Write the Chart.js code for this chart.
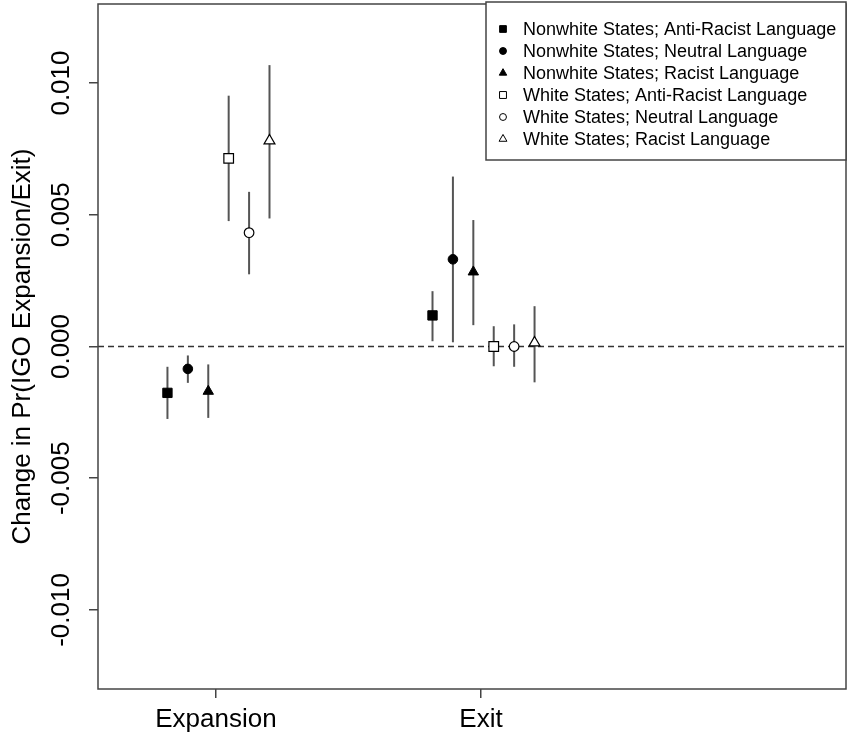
<!doctype html>
<html>

<head>
    <title>IGO Expansion / Exit</title>
    <script src="https://cdn.jsdelivr.net/npm/chart.js@4.4.1/dist/chart.umd.min.js"></script>
    <style>
        body { margin: 0; background: #fff; }
    </style>
</head>

<body>
    <canvas id="chart-area" width="847" height="735"></canvas>
    <script>
    // categories on the x axis
    var categories = ["Expansion", "Exit"];
    var yTicks = [-0.010, -0.005, 0.000, 0.005, 0.010];

    var seriesLabels = [
        "Nonwhite States; Anti-Racist Language",
        "Nonwhite States; Neutral Language",
        "Nonwhite States; Racist Language",
        "White States; Anti-Racist Language",
        "White States; Neutral Language",
        "White States; Racist Language"
    ];

    // point estimates [Expansion, Exit] per series
    var nwAnti    = [-0.00176, 0.00118];
    var nwNeutral = [-0.00085, 0.00331];
    var nwRacist  = [-0.00170, 0.00283];
    var wAnti     = [ 0.00714, 0.00000];
    var wNeutral  = [ 0.00432, 0.00000];
    var wRacist   = [ 0.00781, 0.00014];

    // lower / upper bounds of the intervals
    var nwAntiLow    = [-0.00275, 0.00020], nwAntiHigh    = [-0.00077, 0.00210];
    var nwNeutralLow = [-0.00138, 0.00016], nwNeutralHigh = [-0.00034, 0.00645];
    var nwRacistLow  = [-0.00271, 0.00081], nwRacistHigh  = [-0.00068, 0.00480];
    var wAntiLow     = [ 0.00476,-0.00075], wAntiHigh     = [ 0.00952, 0.00077];
    var wNeutralLow  = [ 0.00274,-0.00077], wNeutralHigh  = [ 0.00587, 0.00084];
    var wRacistLow   = [ 0.00486,-0.00136], wRacistHigh   = [ 0.01068, 0.00153];

    var estimates = [nwAnti, nwNeutral, nwRacist, wAnti, wNeutral, wRacist];
    var lows  = [nwAntiLow, nwNeutralLow, nwRacistLow, wAntiLow, wNeutralLow, wRacistLow];
    var highs = [nwAntiHigh, nwNeutralHigh, nwRacistHigh, wAntiHigh, wNeutralHigh, wRacistHigh];

    // dodge within each group, and marker look
    var dodge = [-0.183, -0.106, -0.029, 0.048, 0.125, 0.202];
    var shapes = ["rect", "circle", "triangle", "rect", "circle", "triangle"];
    var radii = [6.6, 4.8, 6, 6.8, 4.8, 6.3];

    Chart.defaults.font.family = "'Liberation Sans', Arial, sans-serif";
    Chart.defaults.color = "#000";

    var datasets = seriesLabels.map(function(label, i) {
        var filled = i < 3;
        return {
            label: label,
            data: estimates[i].map(function(v, j) {
                return { x: j + 1 + dodge[i], y: v, lo: lows[i][j], hi: highs[i][j] };
            }),
            pointStyle: shapes[i],
            pointRadius: radii[i],
            pointHoverRadius: radii[i],
            backgroundColor: filled ? "#000" : "#fff",
            borderColor: "#000",
            borderWidth: filled ? 1 : 1.2,
            showLine: false
        };
    });

    var errorBars = {
        id: "errorBars",
        beforeDatasetsDraw: function(chart) {
            var ctx = chart.ctx, ys = chart.scales.y, area = chart.chartArea;
            ctx.save();
            // dashed reference line at zero
            ctx.strokeStyle = "#333";
            ctx.lineWidth = 1.5;
            ctx.setLineDash([6, 4]);
            ctx.beginPath();
            ctx.moveTo(area.left, ys.getPixelForValue(0));
            ctx.lineTo(area.right, ys.getPixelForValue(0));
            ctx.stroke();
            ctx.setLineDash([]);
            ctx.strokeStyle = "#555";
            ctx.lineWidth = 2;
            chart.data.datasets.forEach(function(ds, i) {
                var meta = chart.getDatasetMeta(i);
                ds.data.forEach(function(p, j) {
                    var x = meta.data[j].x;
                    ctx.beginPath();
                    ctx.moveTo(x, ys.getPixelForValue(p.lo));
                    ctx.lineTo(x, ys.getPixelForValue(p.hi));
                    ctx.stroke();
                });
            });
            ctx.restore();
        },
        afterDraw: function(chart) {
            var ctx = chart.ctx, ys = chart.scales.y, area = chart.chartArea;
            ctx.save();
            // frame
            ctx.strokeStyle = "#444";
            ctx.lineWidth = 1.5;
            ctx.strokeRect(area.left, area.top, area.right - area.left, area.bottom - area.top);
            // rotated y tick labels
            ctx.fillStyle = "#000";
            ctx.font = "26px 'Liberation Sans', Arial, sans-serif";
            ctx.textAlign = "center";
            ctx.textBaseline = "middle";
            yTicks.forEach(function(v) {
                ctx.save();
                ctx.translate(62, ys.getPixelForValue(v));
                ctx.rotate(-Math.PI / 2);
                ctx.fillText(v.toFixed(3), 0, 0);
                ctx.restore();
            });
            // legend box
            var bx = area.right - 360, by = area.top - 2, bw = 360, bh = 158;
            ctx.fillStyle = "#fff";
            ctx.fillRect(bx, by, bw, bh);
            ctx.strokeRect(bx, by, bw, bh);
            ctx.font = "18px 'Liberation Sans', Arial, sans-serif";
            ctx.textAlign = "left";
            chart.data.datasets.forEach(function(ds, i) {
                var cy = by + 27 + i * 22;
                ctx.fillStyle = ds.backgroundColor;
                ctx.strokeStyle = "#000";
                ctx.lineWidth = 1;
                Chart.helpers.drawPoint(ctx, { pointStyle: ds.pointStyle, radius: ds.pointRadius * 0.72, rotation: 0, borderWidth: 1 }, bx + 17, cy);
                ctx.fillStyle = "#000";
                ctx.fillText(ds.label, bx + 37, cy + 1);
            });
            ctx.restore();
        }
    };

    var config = {
        type: "scatter",
        data: { datasets: datasets },
        options: {
            responsive: false,
            animation: false,
            layout: { autoPadding: false, padding: { top: 4, right: 1, left: 0, bottom: 0 } },
            plugins: { legend: { display: false }, tooltip: { enabled: false } },
            scales: {
                x: {
                    type: "linear",
                    min: 0.555,
                    max: 3.377,
                    afterBuildTicks: function(scale) {
                        scale.ticks = categories.map(function(c, i) { return { value: i + 1 }; });
                    },
                    afterFit: function(scale) { scale.height = 46; },
                    ticks: {
                        font: { size: 26 },
                        padding: 6,
                        maxRotation: 0,
                        callback: function(value) { return categories[value - 1]; }
                    },
                    grid: { drawOnChartArea: false, tickLength: 9, color: "#444", lineWidth: 1.5 },
                    border: { display: false }
                },
                y: {
                    min: -0.013,
                    max: 0.013,
                    afterBuildTicks: function(scale) {
                        scale.ticks = yTicks.map(function(v) { return { value: v }; });
                    },
                    afterFit: function(scale) { scale.width = 98; },
                    ticks: { display: false },
                    title: {
                        display: true,
                        text: "Change in Pr(IGO Expansion/Exit)",
                        font: { size: 26 },
                        padding: { top: 7, bottom: 0 }
                    },
                    grid: { drawOnChartArea: false, tickLength: 9, color: "#444", lineWidth: 1.5 },
                    border: { display: false }
                }
            }
        },
        plugins: [errorBars]
    };

    window.onload = function() {
        var ctx = document.getElementById("chart-area").getContext("2d");
        window.myChart = new Chart(ctx, config);
    };
    </script>
</body>

</html>
